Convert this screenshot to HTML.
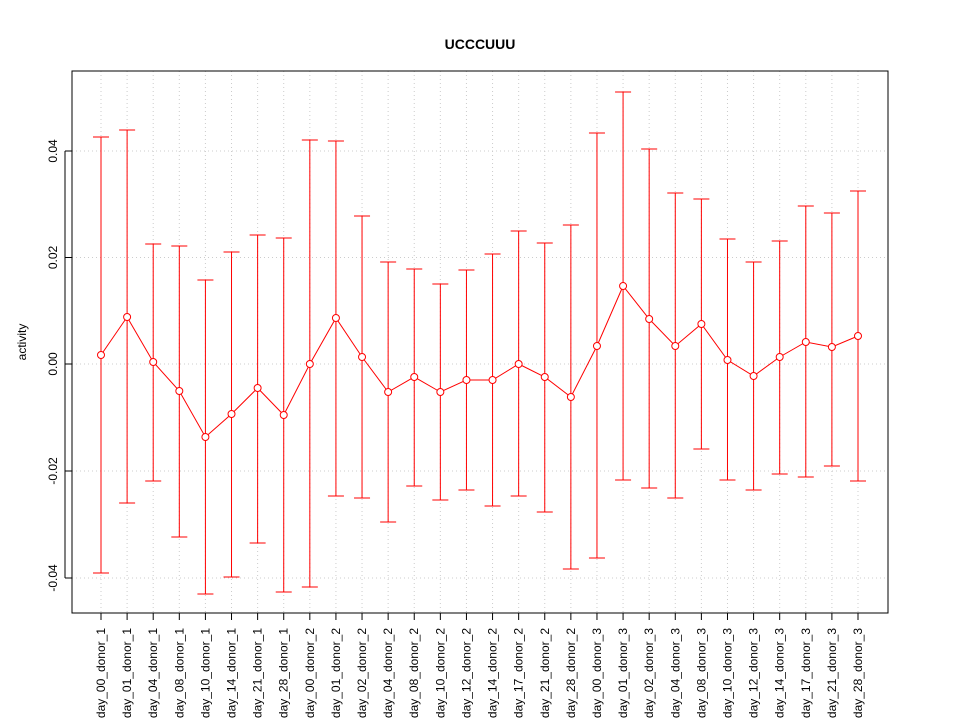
<!DOCTYPE html>
<html><head><style>body{margin:0;background:#fff}</style></head><body>
<svg id="s" width="960" height="720" xmlns="http://www.w3.org/2000/svg" font-family="Liberation Sans, sans-serif"></svg>
<script>
const s=document.getElementById('s');
const d=[[355,137,573],[317,130,503],[362,244,481],[391,246,537],[437,280,594],[414,252,577],[388,235,543],[415,238,592],[364,140,587],[318,141,496],[357,216,498],[392,262,522],[377,269,486],[392,284,500],[380,270,490],[380,254,506],[364,231,496],[377,243,512],[397,225,569],[346,133,558],[286,92,480],[319,149,488],[346,193,498],[324,199,449],[360,239,480],[376,262,490],[357,241,474],[342,206,477],[347,213,466],[336,191,481]];
const names=[];['1','2','3'].forEach(k=>['00','01','04','08','10','14','21','28'].forEach(dd=>names.push('day_'+dd+'_donor_'+k)));
// reorder: donor_1 all then donor_2 etc — 8 per donor but 30 total? use 10 per donor
const days=['00','01','02','04','08','10','12','14','17','21','28'];
const lab=['day_00_donor_1','day_01_donor_1','day_04_donor_1','day_08_donor_1','day_10_donor_1','day_14_donor_1','day_21_donor_1','day_28_donor_1','day_00_donor_2','day_01_donor_2','day_02_donor_2','day_04_donor_2','day_08_donor_2','day_10_donor_2','day_12_donor_2','day_14_donor_2','day_17_donor_2','day_21_donor_2','day_28_donor_2','day_00_donor_3','day_01_donor_3','day_02_donor_3','day_04_donor_3','day_08_donor_3','day_10_donor_3','day_12_donor_3','day_14_donor_3','day_17_donor_3','day_21_donor_3','day_28_donor_3'];
let h='';
const X=i=>101+i*757/29;
for(let i=0;i<30;i++){const x=X(i);h+=`<line x1="${x}" y1="71" x2="${x}" y2="613" stroke="#ccc" stroke-dasharray="1,3"/>`;}
[151,257.5,364,471,578].forEach(y=>h+=`<line x1="72" y1="${y}" x2="888" y2="${y}" stroke="#ccc" stroke-dasharray="1,3"/>`);
let pts='';
d.forEach((v,i)=>{const x=X(i);h+=`<line x1="${x}" y1="${v[1]}" x2="${x}" y2="${v[2]}" stroke="#f00"/><line x1="${x-8}" y1="${v[1]}" x2="${x+8}" y2="${v[1]}" stroke="#f00"/><line x1="${x-8}" y1="${v[2]}" x2="${x+8}" y2="${v[2]}" stroke="#f00"/>`;pts+=x+','+v[0]+' ';});
h+=`<polyline points="${pts}" fill="none" stroke="#f00"/>`;
d.forEach((v,i)=>h+=`<circle cx="${X(i)}" cy="${v[0]}" r="3.5" fill="#fff" stroke="#f00"/>`);
h+=`<rect x="72" y="71" width="816" height="542" fill="none" stroke="#000"/>`;
[[151,'0.04'],[257.5,'0.02'],[364,'0.00'],[471,'-0.02'],[578,'-0.04']].forEach(([y,t])=>{h+=`<line x1="65" y1="${y}" x2="72" y2="${y}" stroke="#000"/><text transform="translate(57,${y}) rotate(-90)" text-anchor="middle" font-size="12">${t}</text>`;});
h+=`<line x1="65" y1="151" x2="65" y2="578" stroke="#000"/>`;
h+=`<line x1="${X(0)}" y1="613" x2="${X(29)}" y2="613" stroke="#000"/>`;
lab.forEach((t,i)=>{const x=X(i);h+=`<line x1="${x}" y1="613" x2="${x}" y2="620" stroke="#000"/><text transform="translate(${x+4},628) rotate(-90)" text-anchor="end" font-size="12">${t}</text>`;});
h+=`<text x="480" y="49" text-anchor="middle" font-size="14" font-weight="bold">UCCCUUU</text>`;
h+=`<text transform="translate(26,342) rotate(-90)" text-anchor="middle" font-size="12">activity</text>`;
s.innerHTML=h;
</script>
</body></html>
